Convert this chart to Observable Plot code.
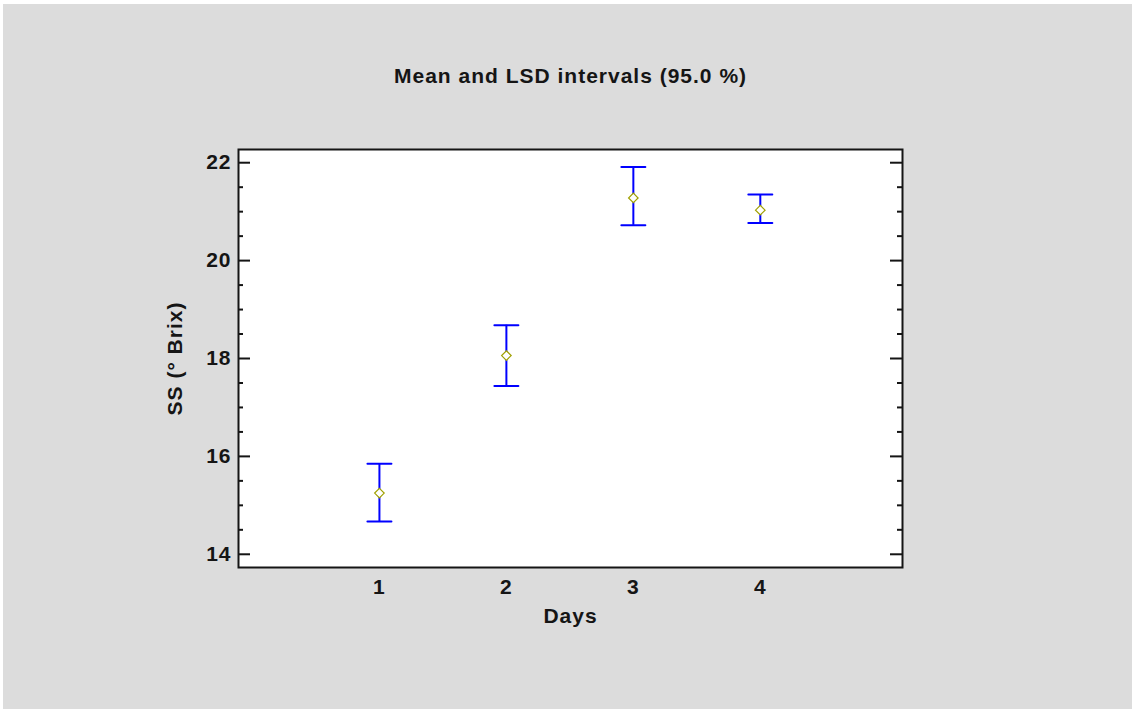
<!DOCTYPE html>
<html><head><meta charset="utf-8">
<script src="https://cdn.jsdelivr.net/npm/d3@7"></script>
<script src="https://cdn.jsdelivr.net/npm/@observablehq/plot@0.6"></script>
<style>
html,body{margin:0;padding:0;background:#fff;}
#wrap{position:absolute;left:3px;top:4px;width:1129px;height:705px;background:#dcdcdc;overflow:hidden}
#wrap svg{display:block}
</style></head><body><div id="wrap"></div>
<script>
const days = [1, 2, 3, 4];
const means = [15.25, 18.06, 21.28, 21.03];
const lower = [14.67, 17.44, 20.72, 20.77];
const upper = [15.85, 18.68, 21.91, 21.35];
const yMajor = [14, 16, 18, 20, 22];
const yMinor = [14.5, 15, 15.5, 16.5, 17, 17.5, 18.5, 19, 19.5, 20.5, 21, 21.5];
const title = "Mean and LSD intervals (95.0 %)";
const xLabel = "Days";
const yLabel = "SS (° Brix)";

const data = days.map((d, i) => ({day: d, mean: means[i], lo: lower[i], hi: upper[i]}));

const W = 1129, H = 705, ML = 235, MT = 145, MR = 230, MB = 142;
const FW = W - ML - MR;
const ink = "#151515";
const font = "'Liberation Sans', Arial, sans-serif";

const capShape = {draw(ctx, l) { ctx.moveTo(-l / 2, 0); ctx.lineTo(l / 2, 0); }};

const plot = Plot.plot({
  width: W, height: H,
  marginLeft: ML, marginTop: MT, marginRight: MR, marginBottom: MB,
  style: {background: "#dcdcdc", fontFamily: font, fontWeight: "bold", fontSize: "21px", color: ink, letterSpacing: "1px"},
  x: {domain: [-0.11, 5.12], axis: null},
  y: {domain: [13.73, 22.27], axis: null},
  marks: [
    Plot.frame({fill: "white", stroke: null}),
    Plot.axisX(days, {anchor: "bottom", tickSize: 0, tickPadding: 12, label: null, tickFormat: d => String(d), fontSize: 21, fill: ink}),
    Plot.axisY(yMajor, {anchor: "left", tickSize: 0, tickPadding: 7, label: null, tickFormat: d => String(d), fontSize: 21, fill: ink}),
    Plot.tickY(yMajor, {y: d => d, insetRight: FW - 12, stroke: ink, strokeWidth: 2}),
    Plot.tickY(yMinor, {y: d => d, insetRight: FW - 5, stroke: ink, strokeWidth: 2}),
    Plot.tickY(yMajor, {y: d => d, insetLeft: FW - 12, stroke: ink, strokeWidth: 2}),
    Plot.tickY(yMinor, {y: d => d, insetLeft: FW - 5, stroke: ink, strokeWidth: 2}),
    Plot.ruleX(data, {x: "day", y1: "lo", y2: "hi", stroke: "#0000ff", strokeWidth: 2}),
    Plot.vector(data, {x: "day", y: "lo", length: 24, anchor: "start", shape: capShape, stroke: "#0000ff", strokeWidth: 2}),
    Plot.vector(data, {x: "day", y: "hi", length: 24, anchor: "start", shape: capShape, stroke: "#0000ff", strokeWidth: 2}),
    Plot.dot(data, {x: "day", y: "mean", symbol: "diamond2", r: 4.3, stroke: "#a0a000", strokeWidth: 1.2, fill: "white"}),
    Plot.frame({stroke: ink, strokeWidth: 2}),
    Plot.text([title], {frameAnchor: "top", dy: -73, lineAnchor: "middle", fontSize: 21, fontWeight: "bold", fill: ink, text: d => d}),
    Plot.text([xLabel], {frameAnchor: "bottom", dy: 41, lineAnchor: "top", fontSize: 21, fontWeight: "bold", fill: ink, text: d => d}),
    Plot.text([yLabel], {frameAnchor: "left", dx: -63, rotate: -90, textAnchor: "middle", lineAnchor: "middle", fontSize: 21, fontWeight: "bold", fill: ink, text: d => d})
  ]
});
document.getElementById("wrap").appendChild(plot);
</script></body></html>
